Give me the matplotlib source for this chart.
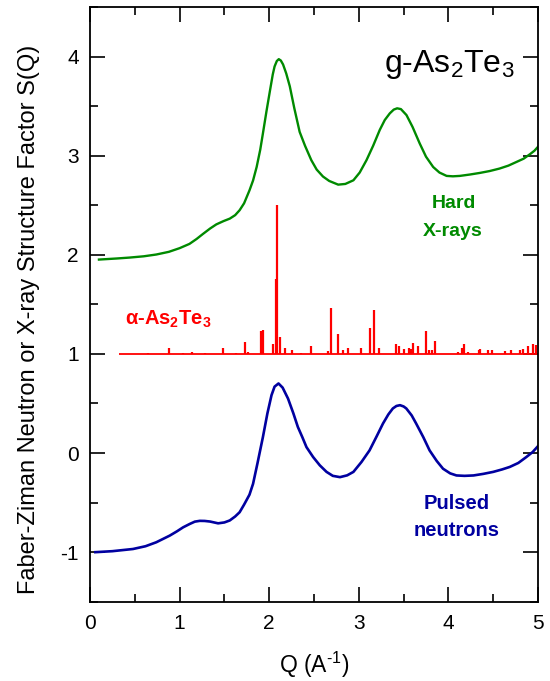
import matplotlib
matplotlib.use('Agg')
import matplotlib.pyplot as plt
from matplotlib.ticker import MultipleLocator

# --- fonts ---
plt.rcParams['font.family'] = ['Liberation Sans', 'DejaVu Sans']
plt.rcParams['mathtext.fontset'] = 'custom'
plt.rcParams['mathtext.rm'] = 'Liberation Sans'
plt.rcParams['mathtext.it'] = 'Liberation Sans:italic'
plt.rcParams['mathtext.bf'] = 'Liberation Sans:bold'
plt.rcParams['axes.unicode_minus'] = False

# --- glassy As2Te3, hard X-rays (offset +2) ---
xray_q = [0.10, 0.30, 0.44, 0.60, 0.74, 0.88, 1.00, 1.11, 1.19, 1.26, 1.34, 1.41,
          1.49, 1.56, 1.62, 1.67, 1.72, 1.78, 1.82, 1.86, 1.90, 1.93, 1.97, 2.01,
          2.04, 2.06, 2.085, 2.107, 2.13, 2.155, 2.19, 2.23, 2.28, 2.34, 2.40, 2.47,
          2.53, 2.60, 2.67, 2.77, 2.85, 2.94, 3.01, 3.086, 3.16, 3.234, 3.29, 3.346,
          3.39, 3.428, 3.47, 3.532, 3.60, 3.68, 3.75, 3.83, 3.90, 3.98, 4.05, 4.127,
          4.24, 4.35, 4.46, 4.57, 4.67, 4.76, 4.84, 4.91, 4.96, 5.0]
xray_s = [1.952, 1.963, 1.972, 1.985, 2.003, 2.03, 2.067, 2.11, 2.16, 2.21, 2.265, 2.307,
          2.34, 2.365, 2.40, 2.45, 2.52, 2.65, 2.75, 2.886, 3.06, 3.225, 3.45, 3.663,
          3.82, 3.90, 3.955, 3.974, 3.96, 3.92, 3.83, 3.70, 3.48, 3.24, 3.10, 2.955,
          2.86, 2.79, 2.745, 2.708, 2.715, 2.752, 2.83, 2.955, 3.10, 3.26, 3.36, 3.427,
          3.465, 3.478, 3.47, 3.41, 3.29, 3.123, 2.99, 2.886, 2.83, 2.796, 2.792, 2.796,
          2.81, 2.826, 2.845, 2.87, 2.90, 2.937, 2.97, 3.015, 3.05, 3.09]

# --- glassy As2Te3, pulsed neutrons (offset -1) ---
neut_q = [0.06, 0.25, 0.48, 0.62, 0.74, 0.89, 0.97, 1.04, 1.114, 1.17, 1.226, 1.28,
          1.34, 1.43, 1.50, 1.56, 1.62, 1.67, 1.72, 1.78, 1.82, 1.87, 1.93, 1.98,
          2.026, 2.06, 2.104, 2.15, 2.21, 2.27, 2.32, 2.37, 2.416, 2.49, 2.565, 2.64,
          2.71, 2.79, 2.87, 2.94, 3.03, 3.12, 3.20, 3.27, 3.33, 3.38, 3.42, 3.46,
          3.50, 3.53, 3.59, 3.64, 3.72, 3.79, 3.87, 3.94, 4.02, 4.09, 4.18, 4.28,
          4.39, 4.50, 4.60, 4.685, 4.78, 4.87, 4.94, 5.0]
neut_s = [-1.0, -0.99, -0.968, -0.94, -0.90, -0.833, -0.79, -0.749, -0.715, -0.692, -0.684, -0.685,
          -0.691, -0.709, -0.70, -0.68, -0.64, -0.597, -0.52, -0.42, -0.31, -0.10, 0.162, 0.40,
          0.584, 0.67, 0.702, 0.66, 0.55, 0.40, 0.263, 0.16, 0.06, -0.04, -0.124, -0.19,
          -0.23, -0.243, -0.225, -0.19, -0.09, 0.027, 0.17, 0.298, 0.39, 0.45, 0.475, 0.483,
          0.47, 0.45, 0.38, 0.298, 0.16, 0.027, -0.08, -0.158, -0.205, -0.226, -0.23, -0.226,
          -0.21, -0.19, -0.165, -0.14, -0.10, -0.04, 0.01, 0.07]

# --- crystalline alpha-As2Te3 Bragg peaks (baseline 1) ---
cryst_base = 1.0
cryst_range = [0.325, 5.0]
peak_q = [0.65, 0.88, 1.04, 1.14, 1.28, 1.49, 1.63, 1.73, 1.76, 1.91, 1.93, 2.045,
          2.074, 2.088, 2.117, 2.18, 2.26, 2.35, 2.47, 2.66, 2.695, 2.77, 2.825, 2.877,
          3.03, 3.12, 3.175, 3.22, 3.41, 3.45, 3.50, 3.555, 3.577, 3.61, 3.666, 3.75,
          3.785, 3.815, 3.845, 4.105, 4.157, 4.175, 4.22, 4.34, 4.355, 4.44, 4.49, 4.63,
          4.70, 4.80, 4.835, 4.886, 4.945, 4.975]
peak_s = [1.01, 1.06, 1.01, 1.02, 1.01, 1.055, 1.01, 1.12, 1.015, 1.236, 1.245, 1.10,
          1.76, 2.5, 1.17, 1.06, 1.035, 1.01, 1.08, 1.03, 1.466, 1.20, 1.04, 1.06,
          1.06, 1.26, 1.44, 1.06, 1.10, 1.08, 1.05, 1.06, 1.05, 1.11, 1.08, 1.23,
          1.035, 1.035, 1.13, 1.02, 1.06, 1.10, 1.015, 1.035, 1.05, 1.035, 1.035, 1.025,
          1.035, 1.035, 1.045, 1.08, 1.10, 1.09]

green = '#008a00'
blue = '#0000a0'
red = '#ff0000'

fig = plt.figure(figsize=(5.5, 6.81), dpi=100)
ax = fig.add_axes([0.1636, 0.1164, 0.8146, 0.8733])

ax.plot(xray_q, xray_s, color=green, lw=1.7)
ax.plot(neut_q, neut_s, color=blue, lw=1.9)
ax.hlines(cryst_base, cryst_range[0], cryst_range[1], color=red, lw=1.3)
ax.vlines(peak_q, cryst_base, peak_s, color=red, lw=1.6)

ax.set_xlim(0, 5)
ax.set_ylim(-1.5, 4.5)
ax.xaxis.set_major_locator(MultipleLocator(1))
ax.xaxis.set_minor_locator(MultipleLocator(0.5))
ax.yaxis.set_major_locator(MultipleLocator(1))
ax.yaxis.set_minor_locator(MultipleLocator(0.5))
ax.tick_params(which='both', direction='in', top=True, right=True, width=1.2, labelsize=15)
ax.tick_params(which='major', length=10.5)
ax.tick_params(which='minor', length=5.5)
ax.tick_params(axis='x', pad=9)
ax.tick_params(axis='y', pad=8)
for sp in ax.spines.values():
    sp.set_linewidth(1.3)

ax.set_xlabel(r'Q (A$^{\text{-1}}$)', fontsize=16.5, labelpad=12)
ax.set_ylabel('Faber-Ziman Neutron or X-ray Structure Factor S(Q)', fontsize=17)
ax.yaxis.set_label_coords(-0.112, 0.474)

# annotations
ax.text(4.74, 3.845, r'g-As$_{\rm 2}$Te$_{\rm 3}$', fontsize=23, ha='right', va='baseline')
ax.text(4.06, 2.476, 'Hard', color=green, fontsize=14, fontweight='bold', ha='center', va='baseline')
ax.text(4.05, 2.194, 'X-rays', color=green, fontsize=14, fontweight='bold', ha='center', va='baseline')
ax.text(4.09, -0.563, 'Pulsed', color=blue, fontsize=14.5, fontweight='bold', ha='center', va='baseline')
ax.text(4.09, -0.833, 'neutrons', color=blue, fontsize=14.5, fontweight='bold', ha='center', va='baseline')
ax.text(0.39, 1.29, r'α-As$_\mathbf{2}$Te$_\mathbf{3}$', color=red, fontsize=14.5,
        fontweight='bold', ha='left', va='baseline')

fig.savefig('out.png', dpi=100)
